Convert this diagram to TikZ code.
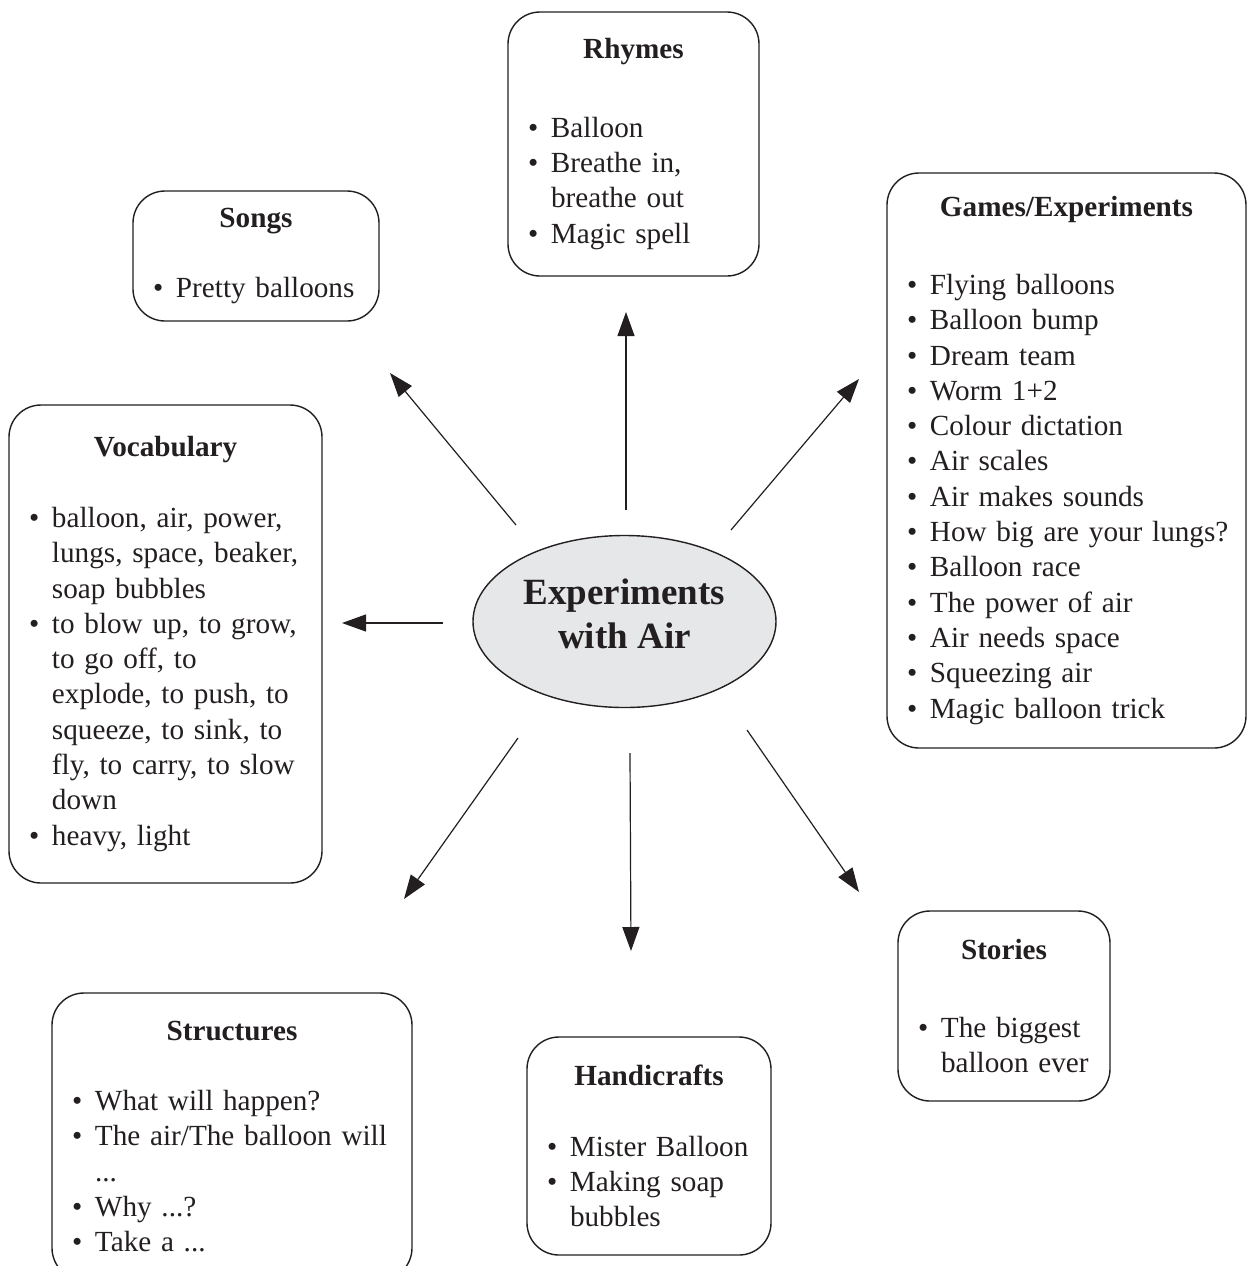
\documentclass[tikz,border=0pt]{standalone}
\usepackage{fontspec}
\setmainfont{Liberation Serif}
\usetikzlibrary{arrows.meta,shapes.geometric}
\definecolor{ink}{RGB}{35,31,32}
\definecolor{ovalgray}{RGB}{230,231,232}
\newlength{\bulw}\setlength{\bulw}{11.5pt}
% box heading, then one empty line (plus an optional extra gap)
\newcommand{\hd}[2][0pt]{\makebox[\hsize]{\bfseries #2}\par\vspace{\dimexpr\baselineskip+#1\relax}}
% bulleted entry with hanging indent
\newcommand{\blt}[1]{\par\hangindent=\bulw\hangafter=1\noindent\makebox[\bulw][l]{\textbullet}#1\par}
\tikzset{
  topic/.style={draw=ink, text=ink, line width=0.7pt, rounded corners=16pt,
    inner xsep=10pt, font=\fontsize{14.6pt}{17.65pt}\selectfont},
  arr/.style={-{Triangle[length=12pt,width=8.5pt]}, draw=ink, line width=0.6pt}
}
\begin{document}
\begin{tikzpicture}[x=0.5pt,y=-0.5pt]
         \clip (0,0) rectangle (1247,1266);
         \node[ellipse, draw=ink, fill=ovalgray, text=ink, line width=0.7pt, minimum width=151.5pt, minimum height=86pt,
           inner sep=0pt, align=center, font=\fontsize{18.5pt}{22pt}\selectfont\bfseries]
           (air) at (624.5,621.5) {Experiments\\with Air\rule[-8pt]{0pt}{0pt}};
         \node[topic, text width=105.5pt, minimum height=132pt] (rhymes) at (633.5,144)
           {\hd[4pt]{Rhymes}\blt{Balloon}\blt{Breathe in,\newline breathe out}\blt{Magic spell}};
         \node[topic, text width=103pt, minimum height=65pt] (songs) at (256,256)
           {\hd{Songs}\blt{Pretty balloons}};
         \node[topic, text width=159.5pt, minimum height=287.5pt] (games) at (1066.5,460.5)
           {\hd[3.5pt]{Games/Experiments}\blt{Flying balloons}\blt{Balloon bump}\blt{Dream team}\blt{Worm 1+2}
            \blt{Colour dictation}\blt{Air scales}\blt{Air makes sounds}\blt{\mbox{How big are your lungs?}}
            \blt{Balloon race}\blt{The power of air}\blt{Air needs space}\blt{Squeezing air}\blt{Magic balloon trick}};
         \node[topic, text width=136.5pt, minimum height=239pt] (vocab) at (165.5,644)
           {\hd{Vocabulary}\blt{balloon, air, power,\newline lungs, space, beaker,\newline soap bubbles}
            \blt{to blow up, to grow,\newline to go off, to\newline explode, to push, to\newline squeeze, to sink, to\newline fly, to carry, to slow\newline down}
            \blt{heavy, light}};
         \node[topic, text width=86pt, minimum height=95pt] (stories) at (1004,1006)
           {\hd[4pt]{Stories}\blt{The biggest\newline balloon ever}};
         \node[topic, text width=102pt, minimum height=109pt] (crafts) at (649,1146)
           {\hd{Handicrafts}\blt{Mister Balloon}\blt{Making soap\newline bubbles}};
         \node[topic, text width=160pt, minimum height=143.5pt] (struct) at (232,1136.5)
           {\hd{Structures}\blt{What will happen?}\blt{The air/The balloon will\newline ...}\blt{Why ...?}\blt{Take a ...}};
         % arrows out of the centre, start and tip
         \foreach \sx/\sy/\tx/\ty [count=\i] in {626/510/626/312, 516/525/390/373, 731/530/859/379, 443/623/342/623,
             518/738/404/899, 630/753/631/951, 747/730/859/892}{
           \coordinate (s\i) at (\sx,\sy);
           \coordinate (t\i) at (\tx,\ty);
           \draw[arr] (s\i) -- (t\i);
         }
       \end{tikzpicture}
\end{document}
